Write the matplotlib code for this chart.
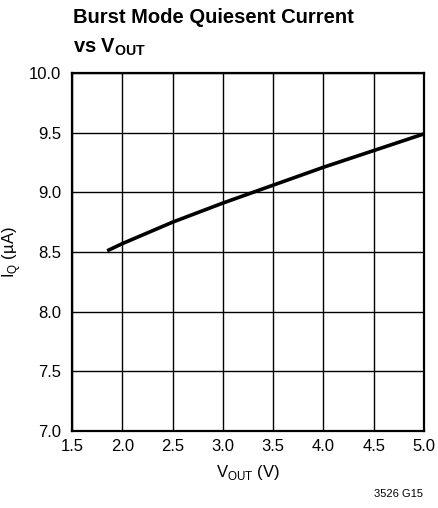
import matplotlib.pyplot as plt

# output voltage (V) and burst mode quiescent current (uA)
vout = [1.85, 2.0, 2.5, 3.0, 3.5, 4.0, 4.5, 5.0]
iq = [8.51, 8.57, 8.75, 8.91, 9.06, 9.21, 9.35, 9.49]

xticks = [1.5, 2.0, 2.5, 3.0, 3.5, 4.0, 4.5, 5.0]
yticks = [7.0, 7.5, 8.0, 8.5, 9.0, 9.5, 10.0]

fam = 'Liberation Sans'
plt.rcParams['font.family'] = [fam, 'DejaVu Sans']
plt.rcParams['mathtext.fontset'] = 'custom'
plt.rcParams['mathtext.rm'] = fam
plt.rcParams['mathtext.bf'] = fam + ':bold'

fig = plt.figure(figsize=(4.38, 5.08), dpi=100)
ax = fig.add_axes([0.1644, 0.1516, 0.8036, 0.7047])

ax.plot(vout, iq, color='black', lw=2.6, solid_capstyle='butt')

ax.set_xlim(1.5, 5.0)
ax.set_ylim(7.0, 10.0)
ax.set_xticks(xticks)
ax.set_yticks(yticks)
ax.set_xticklabels([f'{v:.1f}' for v in xticks])
ax.set_yticklabels([f'{v:.1f}' for v in yticks])
ax.tick_params(length=0, labelsize=12)
ax.tick_params(axis='y', pad=8)
ax.tick_params(axis='x', pad=6)
ax.grid(True, color='black', lw=1.0)
for s in ax.spines.values():
    s.set_linewidth(1.6)

ax.set_xlabel(r'V$_{\rm OUT}$ (V)', fontsize=12, labelpad=6)
ax.set_ylabel(r'I$_{\rm Q}$ (' + '\u00b5A)', fontsize=12, labelpad=4)

fig.text(0.1667, 0.955, 'Burst Mode Quiesent Current', fontsize=14.5,
         fontweight='bold', ha='left', va='baseline')
fig.text(0.1667, 0.896, r'vs V$_{\mathbf{OUT}}$', fontsize=14.5,
         fontweight='bold', ha='left', va='baseline')
fig.text(0.965, 0.022, '3526 G15', fontsize=8, ha='right', va='baseline')

fig.savefig('out.png', dpi=100)
